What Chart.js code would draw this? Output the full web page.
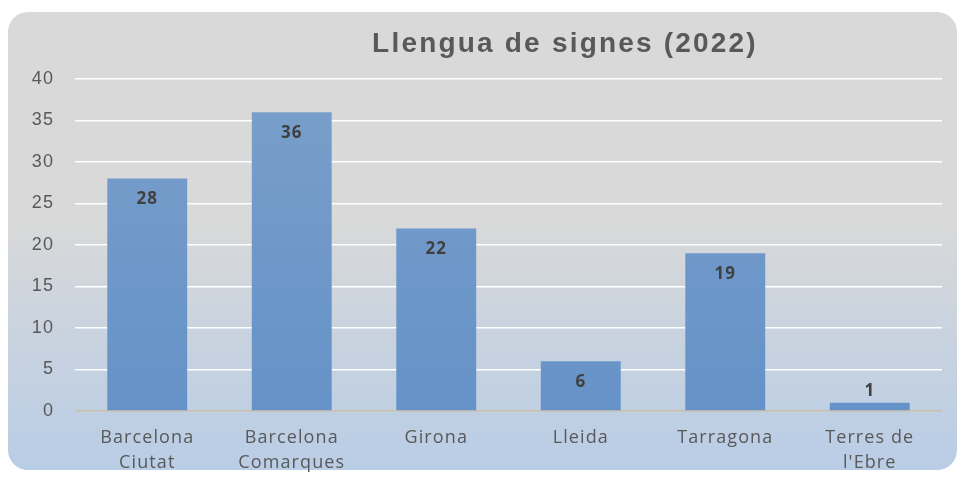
<!DOCTYPE html>
<html>
<head>
<meta charset="utf-8">
<script src="https://cdn.jsdelivr.net/npm/chart.js@4"></script>
<style>
  html, body { margin: 0; padding: 0; background: #ffffff; }
  #wrap { position: relative; width: 964px; height: 480px; }
  #card {
    position: absolute; left: 8px; top: 12px; width: 949px; height: 458px;
    border-radius: 20px;
    background: linear-gradient(to bottom, #d9d9d9 0%, #d9d9d9 45%, #c9d3df 70%, #b9cde6 100%);
  }
  #c { position: absolute; left: 0; top: 0; }
</style>
</head>
<body>
<div id="wrap">
  <div id="card"></div>
  <canvas id="c" width="964" height="480"></canvas>
</div>
<script>
// dades
const titol = 'Llengua de signes (2022)';
const zones = [['Barcelona', 'Ciutat'], ['Barcelona', 'Comarques'], 'Girona', 'Lleida', 'Tarragona', ['Terres de', "l'Ebre"]];
const valors = [28, 36, 22, 6, 19, 1];
const ticksY = [0, 5, 10, 15, 20, 25, 30, 35, 40];

// una mica d'espaiat a tot el text dels eixos
const espaiat = {
    id: 'espaiat',
    beforeDraw(chart) { chart.ctx.letterSpacing = '1.1px'; },
    afterDraw(chart) { chart.ctx.letterSpacing = '0px'; }
};

// títol dibuixat a mà (desplaçat com a l'original)
const titolPlugin = {
    id: 'titol',
    afterDraw(chart) {
        const c = chart.ctx;
        c.save();
        c.font = 'bold 28px "Liberation Sans", Arial, sans-serif';
        c.letterSpacing = '2.2px';
        c.fillStyle = '#595959';
        c.textAlign = 'center';
        c.textBaseline = 'middle';
        c.fillText(titol, 565, 44);
        c.restore();
    }
};

// etiquetes de valor
const etiquetes = {
    id: 'etiquetes',
    afterDatasetsDraw(chart) {
        const c = chart.ctx;
        const meta = chart.getDatasetMeta(0);
        c.save();
        c.font = 'bold 17px "Open Sans", sans-serif';
        c.letterSpacing = '1px';
        c.fillStyle = '#404040';
        c.textAlign = 'center';
        c.textBaseline = 'middle';
        meta.data.forEach((bar, i) => {
            const h = bar.base - bar.y;
            const y = h > 30 ? bar.y + 21 : bar.y - 12;
            c.fillText(valors[i], bar.x, y);
        });
        c.restore();
    }
};

new Chart(document.getElementById('c'), {
    type: 'bar',
    data: {
        labels: zones,
        datasets: [{
            data: valors,
            backgroundColor: (ctx) => {
                const area = ctx.chart.chartArea;
                if (!area) return '#7099c8';
                const g = ctx.chart.ctx.createLinearGradient(0, area.top, 0, area.bottom);
                g.addColorStop(0, '#7a9fca');
                g.addColorStop(1, '#6592c8');
                return g;
            },
            barPercentage: 0.553,
            categoryPercentage: 1
        }]
    },
    options: {
        responsive: false,
        animation: false,
        layout: { padding: { left: 0, right: 22, top: 79, bottom: 0 } },
        plugins: {
            legend: { display: false },
            title: { display: false },
            tooltip: { enabled: false }
        },
        scales: {
            x: {
                grid: { display: false },
                border: { display: false },
                ticks: {
                    color: '#595959',
                    font: { family: '"Open Sans", sans-serif', size: 18, lineHeight: 1.4 },
                    padding: 6,
                    maxRotation: 0
                },
                afterFit(scale) { scale.height = 69; }
            },
            y: {
                min: 0,
                max: 40,
                afterBuildTicks(scale) { scale.ticks = ticksY.map(v => ({ value: v })); },
                grid: {
                    drawTicks: false,
                    lineWidth: 1.5,
                    color: (ctx) => ctx.tick && ctx.tick.value === 0 ? '#cdbfa6' : '#ffffff'
                },
                border: { display: false },
                ticks: {
                    color: '#595959',
                    font: { family: '"Liberation Sans Narrow", "Liberation Sans", sans-serif', size: 18 },
                    padding: 21
                },
                afterFit(scale) { scale.width = 75; }
            }
        }
    },
    plugins: [espaiat, titolPlugin, etiquetes]
});
</script>
</body>
</html>
